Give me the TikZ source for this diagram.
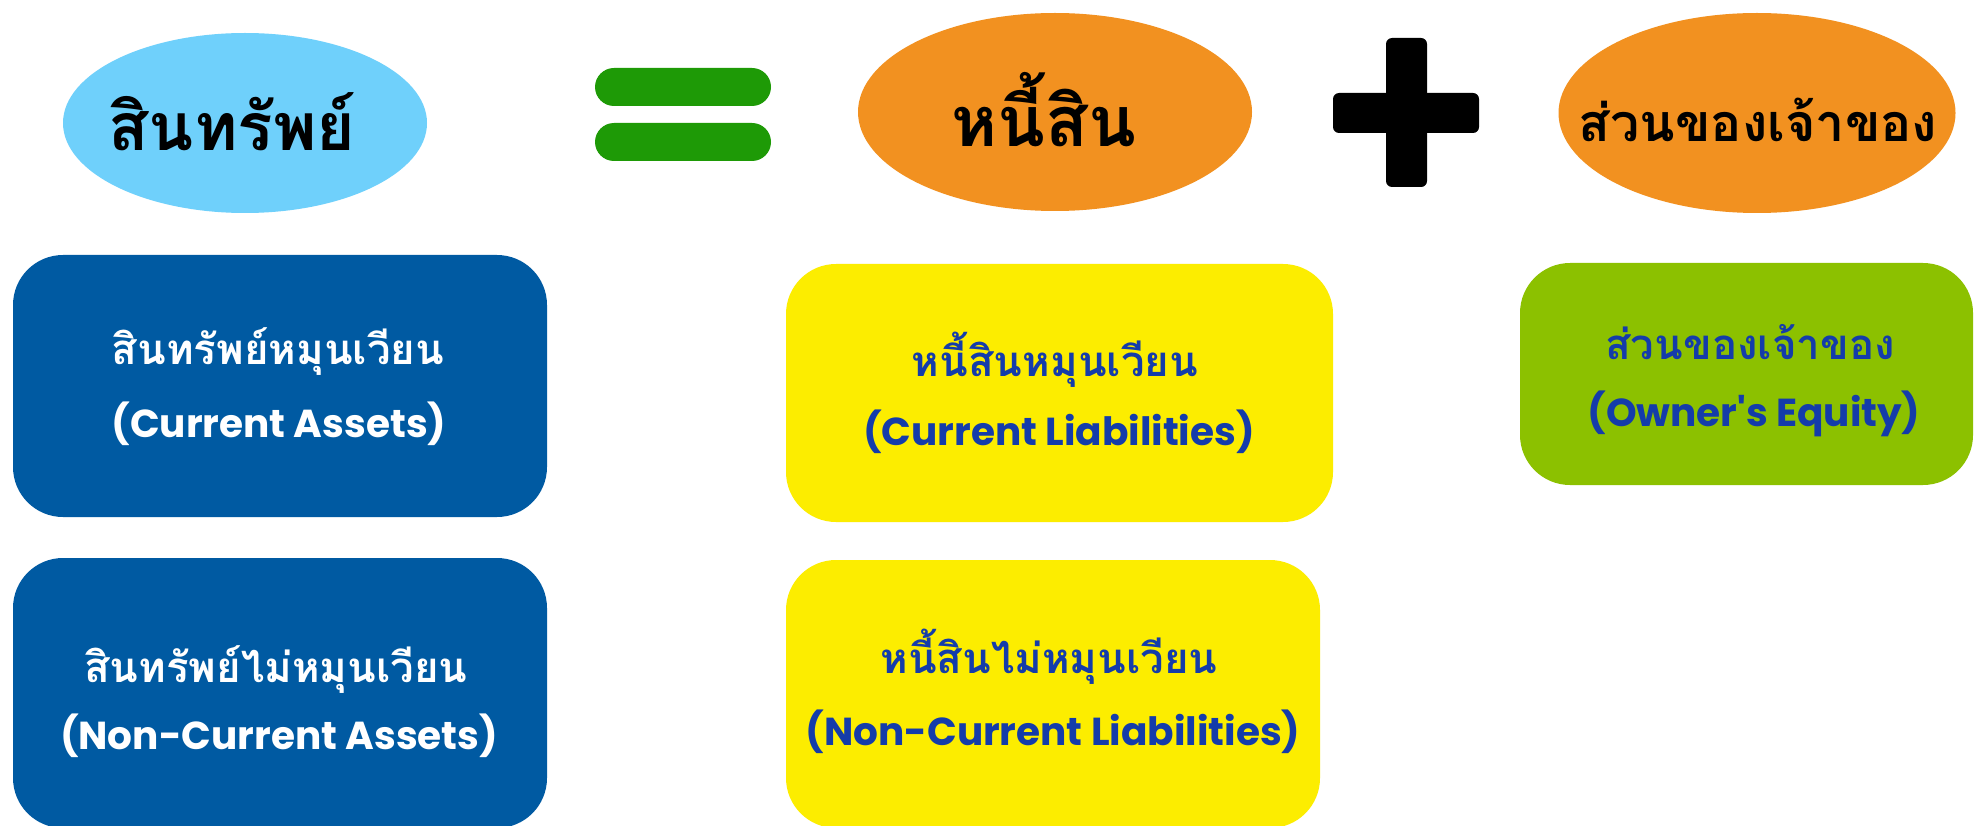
\documentclass[tikz,border=0pt]{standalone}
\usepackage{fontspec}
\newfontfamily\thaifont[Script=Thai]{Loma}
\newfontfamily\enfont{Poppins}
\usetikzlibrary{shapes.geometric,calc}
\definecolor{skyblue}{RGB}{111,208,251}
\definecolor{eqgreen}{RGB}{30,154,6}
\definecolor{orangeF}{RGB}{242,145,32}
\definecolor{boxblue}{RGB}{0,90,162}
\definecolor{boxyellow}{RGB}{252,237,0}
\definecolor{boxgreen}{RGB}{140,193,0}
\definecolor{txtblue}{RGB}{20,60,170}
\begin{document}
\begin{tikzpicture}[x=1pt,y=-1pt,
  oval/.style={ellipse,inner sep=0pt,draw=none},
  bar/.style={rectangle,fill=eqgreen,rounded corners=19pt,minimum width=176pt,minimum height=38pt,inner sep=0pt},
  plusbar/.style={rectangle,fill=black,rounded corners=6pt,inner sep=0pt},
  card/.style={rectangle,rounded corners=50pt,inner sep=0pt},
  headtxt/.style={font=\thaifont\bfseries\fontsize{66}{72}\selectfont,text=black,inner sep=0pt},
  thaitxt/.style={font=\thaifont\bfseries\fontsize{42}{48}\selectfont,inner sep=0pt},
  entxt/.style={font=\enfont\bfseries\fontsize{39}{44}\selectfont,inner sep=0pt}]
\useasboundingbox (0,0) rectangle (1975,826);
\fill[white] (0,0) rectangle (1975,826);
% top row
\node[oval,fill=skyblue,minimum width=364pt,minimum height=180pt] (assets) at (245,123) {};
\node[headtxt] (assetsT) at (232,122) {สินทรัพย์};
\node[bar] (eqtop) at (683,87) {};
\node[bar] (eqbot) at (683,142) {};
\node[oval,fill=orangeF,minimum width=394pt,minimum height=198pt] (liab) at (1055,112) {};
\node[headtxt,font=\thaifont\bfseries\fontsize{70}{76}\selectfont] (liabT) at (1044,110) {หนี้สิน};
\node[plusbar,minimum width=41pt,minimum height=149pt] (plusv) at (1406.5,112.5) {};
\node[plusbar,minimum width=146pt,minimum height=40pt] (plush) at (1406,113) {};
\node[oval,fill=orangeF,minimum width=397pt,minimum height=200pt] (equity) at (1757,113) {};
\node[headtxt,font=\thaifont\bfseries\fontsize{52}{58}\selectfont] (equityT) at (1758,120) {ส่วนของเจ้าของ};
% cards
\node[card,fill=boxblue,minimum width=534pt,minimum height=262pt] (ca) at (280,386) {};
\node[thaitxt,text=white] (caT) at (278,352) {สินทรัพย์หมุนเวียน};
\node[entxt,text=white] (caE) at (279,424) {(Current Assets)};
\node[card,fill=boxblue,minimum width=534pt,minimum height=270pt] (nca) at (280,693) {};
\node[thaitxt,text=white] (ncaT) at (276,670) {สินทรัพย์ไม่หมุนเวียน};
\node[entxt,text=white] (ncaE) at (279,736) {(Non-Current Assets)};
\node[card,fill=boxyellow,minimum width=547pt,minimum height=258pt] (cl) at (1059.5,393) {};
\node[thaitxt,text=txtblue] (clT) at (1055,360) {หนี้สินหมุนเวียน};
\node[entxt,text=txtblue] (clE) at (1059,432) {(Current Liabilities)};
\node[card,fill=boxyellow,minimum width=534pt,minimum height=268pt] (ncl) at (1053,694) {};
\node[thaitxt,text=txtblue] (nclT) at (1049,657) {หนี้สินไม่หมุนเวียน};
\node[entxt,text=txtblue] (nclE) at (1053,732) {(Non-Current Liabilities)};
\node[card,fill=boxgreen,minimum width=453pt,minimum height=222pt] (oe) at (1746.5,374) {};
\node[thaitxt,text=txtblue] (oeT) at (1750,342) {ส่วนของเจ้าของ};
\node[entxt,text=txtblue] (oeE) at (1754,414) {(Owner's Equity)};
\end{tikzpicture}
\end{document}
